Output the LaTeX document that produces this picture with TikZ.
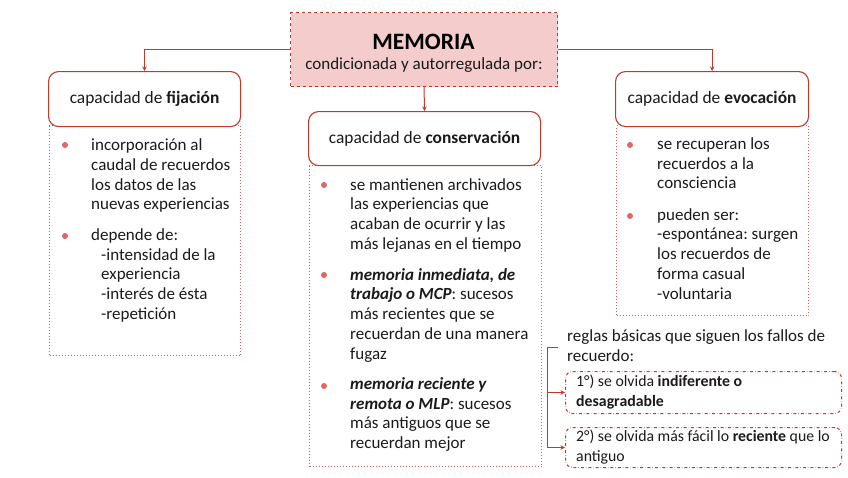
\documentclass[tikz,border=0pt]{standalone}
\usepackage{fontspec}
\setmainfont{Carlito}
\frenchspacing
\usetikzlibrary{arrows.meta}
\definecolor{dred}{HTML}{C0392B}
\definecolor{dotred}{HTML}{D0605A}
\definecolor{bulred}{HTML}{E06666}
\definecolor{memfill}{HTML}{F4CCCC}
\definecolor{txt}{HTML}{1A1A1A}
\tikzset{
  hdr/.style={draw=dred, line width=1.1pt, rounded corners=10pt, fill=white, anchor=north west, inner sep=0pt, text=txt, font=\fontsize{17.4}{20}\selectfont},
  bodybox/.style={draw=dotred, dotted, line width=1pt, anchor=north west, inner sep=0pt},
  ddbox/.style={draw=dred, dash dot, line width=1pt, rounded corners=7pt, anchor=north west, inner sep=0pt},
  para/.style={anchor=north west, inner sep=0pt, align=left, text=txt, font=\fontsize{17}{19.7}\selectfont},
  regt/.style={anchor=north west, inner sep=0pt, align=left, text=txt, font=\fontsize{17}{19.7}\selectfont},
  small/.style={anchor=north west, inner sep=0pt, align=left, text=txt, font=\fontsize{15.8}{19.3}\selectfont},
  bul/.style={circle, fill=bulred, inner sep=0pt, minimum size=6pt},
  arr/.style={draw=dred, line width=1pt, -{Stealth[length=4.5pt,width=4.5pt]}},
}
\newcommand{\fl}{\rule{0pt}{14pt}}
\begin{document}
\begin{tikzpicture}[x=1pt,y=-1pt]
\useasboundingbox (0,0) rectangle (848,477);

% MEMORIA
\node (mem) [draw=dred, dashed, line width=1pt, fill=memfill, anchor=north west, inner sep=0pt,
  minimum width=267pt, minimum height=74pt] at (290,12) {};
\node (memt) [anchor=base, inner sep=0pt, text=black, font=\fontsize{23.5}{26}\selectfont\bfseries] at (423.5,49) {MEMORIA};
\node (memc) [anchor=base, inner sep=0pt, text=txt, font=\fontsize{17}{20}\selectfont] at (424,69.5) {condicionada y autorregulada por:};

% body boxes
\node (fijb) [bodybox, minimum width=191pt, minimum height=230pt] at (49,125) {};
\node (conb) [bodybox, minimum width=232pt, minimum height=301pt] at (309,165) {};
\node (evob) [bodybox, minimum width=192pt, minimum height=190pt] at (616,125) {};

% headers
\node (fij) [hdr, minimum width=192pt, minimum height=55pt] at (48,71) {capacidad de \textbf{fijación}};
\node (con) [hdr, minimum width=232pt, minimum height=54pt] at (308,111) {capacidad de \textbf{conservación}};
\node (evo) [hdr, minimum width=193pt, minimum height=55pt] at (615,71) {capacidad de \textbf{evocación}};

% connectors
\draw[arr] (mem.west) -| (fij.north);
\draw[arr] (mem.east) -| (evo.north);
\draw[arr] (mem.south) -- (con.north);

% left body
\node (b1) [bul] at (65,145) {};
\node (p1) [para] at (91,150.5-14) {\fl incorporación al\\caudal de recuerdos\\los datos de las\\nuevas experiencias};
\node (b2) [bul] at (65,236) {};
\node (p2) [para] at (91,240-14) {\fl depende de:};
\node (p2b) [para] at (101,260-14) {\fl -intensidad de la\\experiencia\\-interés de ésta\\-repetición};

% middle body
\node (b3) [bul] at (324,185) {};
\node (p3) [para] at (350,190-14) {\fl se mantienen archivados\\las experiencias que\\acaban de ocurrir y las\\más lejanas en el tiempo};
\node (b4) [bul] at (324,275) {};
\node (p4) [para] at (350,280-14) {\fl\textbf{\textit{memoria inmediata, de}}\\\textbf{\textit{trabajo o MCP}}: sucesos\\más recientes que se\\recuerdan de una manera\\fugaz};
\node (b5) [bul] at (324,386) {};
\node (p5) [para] at (350,389.3-14) {\fl\textbf{\textit{memoria reciente y}}\\\textbf{\textit{remota o MLP}}: sucesos\\más antiguos que se\\recuerdan mejor};

% right body
\node (b6) [bul] at (630,145) {};
\node (p6) [para] at (657,149.3-14) {\fl se recuperan los\\recuerdos a la\\consciencia};
\node (b7) [bul] at (630,216) {};
\node (p7) [para] at (657,220-14) {\fl pueden ser:\\-espontánea: surgen\\los recuerdos de\\forma casual\\-voluntaria};

% reglas
\node (reg) [regt] at (567,341.5-14) {\fl reglas básicas que siguen los fallos de\\recuerdo:};
\node (r1) [ddbox, minimum width=276pt, minimum height=42pt] at (565,371) {};
\node (r2) [ddbox, minimum width=276pt, minimum height=40pt] at (565,427) {};
\node (r1t) [small] at (576,386.7-14) {\fl 1°) se olvida \textbf{indiferente o}\\\textbf{desagradable}};
\node (r2t) [small] at (576,441.7-14) {\fl 2°) se olvida más fácil lo \textbf{reciente} que lo\\antiguo};

\coordinate (brtop) at (558,347);
\coordinate (brc) at (547.3,347);
\draw[draw=dred, line width=1pt] (brtop) -- (brc) -- (brc |- r2.west);
\draw[arr] (brc |- r1.west) -- (r1.west);
\draw[arr] (brc |- r2.west) -- (r2.west);
\end{tikzpicture}
\end{document}
